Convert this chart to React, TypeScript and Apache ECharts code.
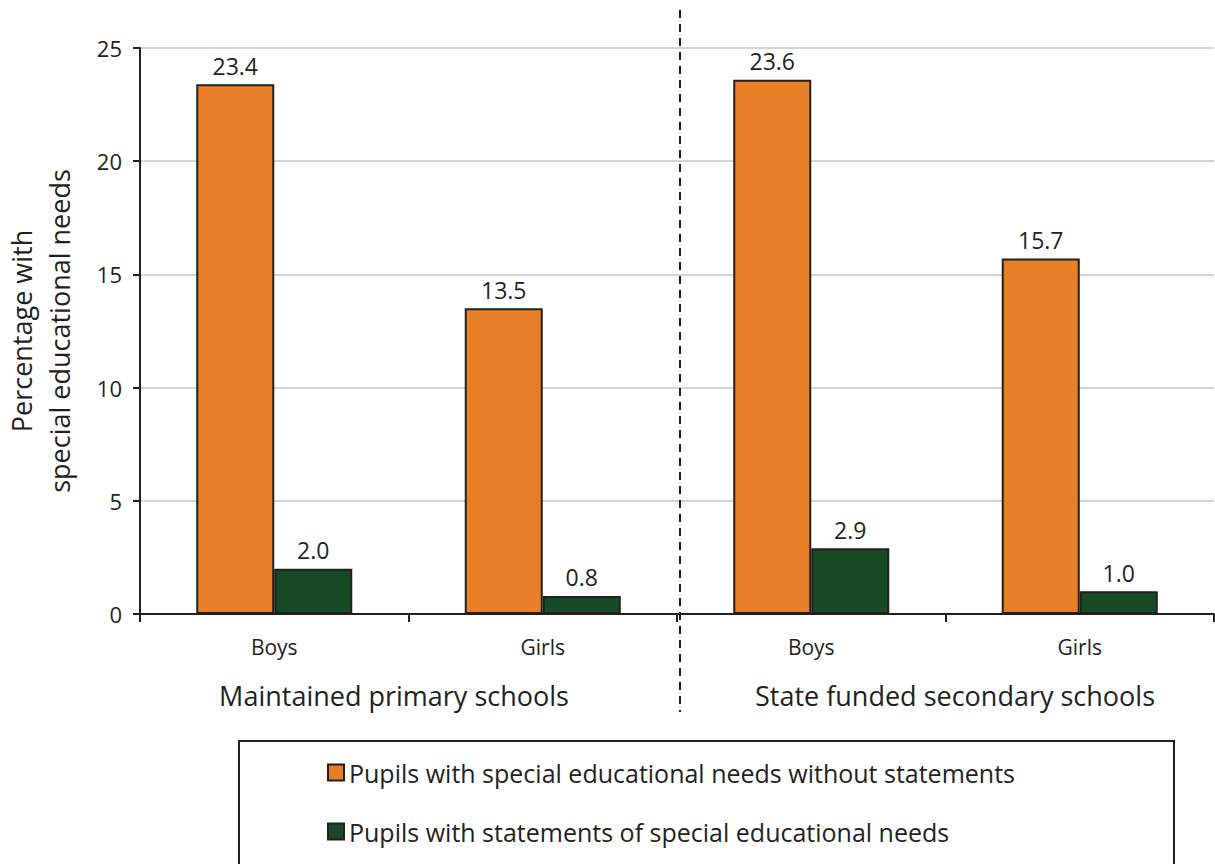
import React, { useEffect, useRef } from "react";
import * as echarts from "echarts";

const categories = ["Boys", "Girls", "Boys", "Girls"];
const groupLabels = ["Maintained primary schools", "State funded secondary schools"];
const withoutStatements = [23.4, 13.5, 23.6, 15.7];
const withStatements = [2.0, 0.8, 2.9, 1.0];
const seriesNames = [
  "Pupils with special educational needs without statements",
  "Pupils with statements of special educational needs",
];
const yTicks = { min: 0, max: 25, interval: 5 };

const FONT = "'Open Sans', 'Noto Sans', sans-serif";
const TEXT = "#231f20";

export default function App() {
  const ref = useRef<HTMLDivElement>(null);
  useEffect(() => {
    if (!ref.current) return;
    const chart = echarts.init(ref.current, undefined, { renderer: "svg" });
    const labelStyle = {
      show: true,
      position: "top",
      distance: 7,
      color: TEXT,
      fontSize: 23,
      fontFamily: FONT,
      formatter: (p: any) => Number(p.value).toFixed(1),
    };
    chart.setOption({
      animation: false,
      backgroundColor: "#ffffff",
      textStyle: { fontFamily: FONT },
      grid: {
        left: 140,
        right: 1,
        top: 48,
        bottom: 250,
        containLabel: false,
        outerBoundsMode: "none",
      },
      xAxis: {
        type: "category",
        data: categories,
        axisLine: { lineStyle: { color: TEXT, width: 2 } },
        axisTick: { show: true, length: 8, interval: 0, lineStyle: { color: TEXT, width: 2 } },
        axisLabel: { color: TEXT, fontSize: 21, fontFamily: FONT, margin: 22 },
      },
      yAxis: {
        type: "value",
        min: yTicks.min,
        max: yTicks.max,
        interval: yTicks.interval,
        name: "Percentage with\nspecial educational needs",
        nameLocation: "middle",
        nameGap: 62,
        nameRotate: 90,
        nameTextStyle: { color: TEXT, fontSize: 27, fontFamily: FONT, lineHeight: 38 },
        axisLine: { show: true, lineStyle: { color: TEXT, width: 2 } },
        axisTick: { show: true, length: 7, lineStyle: { color: TEXT, width: 2 } },
        axisLabel: { color: TEXT, fontSize: 22, fontFamily: FONT, margin: 18 },
        splitLine: { lineStyle: { color: "#d4d4d4", width: 2 } },
      },
      legend: {
        orient: "vertical",
        left: 322,
        top: 754,
        itemGap: 32,
        itemWidth: 16,
        itemHeight: 16,
        icon: "rect",
        textStyle: { color: TEXT, fontSize: 25, fontFamily: FONT, lineHeight: 27 },
        data: seriesNames,
      },
      graphic: [
        {
          type: "rect",
          shape: { x: 239, y: 741, width: 935, height: 200 },
          style: { fill: "none", stroke: "#231f20", lineWidth: 2 },
          z: 0,
        },
        {
          type: "line",
          shape: { x1: 680, y1: 10, x2: 680, y2: 712 },
          style: { stroke: "#231f20", lineWidth: 2, lineDash: [8, 6] },
          z: 10,
        },
        {
          type: "text",
          x: 394,
          y: 695,
          style: {
            text: groupLabels[0],
            fill: TEXT,
            font: `27px ${FONT}`,
            textAlign: "center",
            textVerticalAlign: "middle",
          },
        },
        {
          type: "text",
          x: 955,
          y: 695,
          style: {
            text: groupLabels[1],
            fill: TEXT,
            font: `27px ${FONT}`,
            textAlign: "center",
            textVerticalAlign: "middle",
          },
        },
      ],
      series: [
        {
          name: seriesNames[0],
          type: "bar",
          data: withoutStatements,
          barWidth: 78,
          barGap: "0%",
          itemStyle: { color: "#e87f26", borderColor: "#231f20", borderWidth: 2 },
          label: labelStyle,
        },
        {
          name: seriesNames[1],
          type: "bar",
          data: withStatements,
          barWidth: 78,
          barGap: "0%",
          itemStyle: { color: "#174a25", borderColor: "#231f20", borderWidth: 2 },
          label: labelStyle,
        },
      ],
    });
    return () => chart.dispose();
  }, []);
  return (
    <div
      ref={ref}
      style={{ position: "fixed", left: 0, top: 0, width: 1215, height: 864 }}
    />
  );
}
